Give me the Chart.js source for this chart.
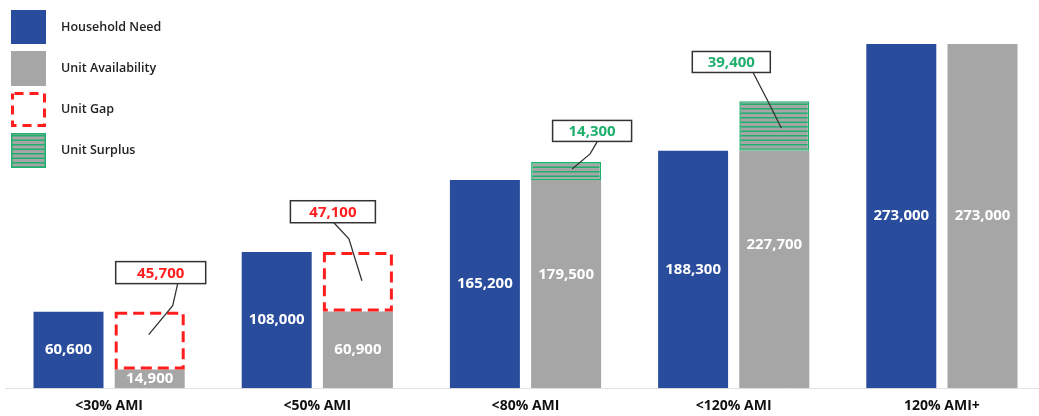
<!DOCTYPE html>
<html>
<head>
<meta charset="utf-8">
<script src="https://cdn.jsdelivr.net/npm/chart.js@4"></script>
<style>
  html, body { margin: 0; padding: 0; background: #fff; overflow: hidden; }
  #wrap { position: relative; width: 1046px; height: 416px; }
</style>
</head>
<body>
<div id="wrap"><canvas id="housing-chart"></canvas></div>
<script>
// Data
const categories = ['<30% AMI', '<50% AMI', '<80% AMI', '<120% AMI', '120% AMI+'];
const householdNeed = [60600, 108000, 165200, 188300, 273000];
const unitAvailability = [14900, 60900, 179500, 227700, 273000];
const unitGap = [45700, 47100, null, null, null];
const unitSurplus = [null, null, 14300, 39400, null];

const BLUE = '#2a4c9c';
const GRAY = '#a6a6a6';
const RED = '#ff1e1e';
const GREEN = '#1fb06e';
const FONT = "'Open Sans', sans-serif";

// solid grey part = availability minus any surplus on top of it
const availabilityBase = unitAvailability.map((v, i) => v - (unitSurplus[i] || 0));

// callout box + leader line, relative to the centre of the gap/surplus block
const callouts = {
    0: { dx: 11, dy: -68, w: 90, h: 22, line: [[28, -57], [23, -35], [-1, -6]] },
    1: { dx: -25, dy: -70, w: 85, h: 22, line: [[-24, -59], [-9, -43], [4, -1]] },
    2: { dx: 26, dy: -40, w: 79, h: 21, line: [[31, -29], [24, -17], [6, -2]] },
    3: { dx: -43, dy: -64, w: 78, h: 21, line: [[-21, -53], [-7, -26], [7, 2]] },
};

function stripes() {
    const c = document.createElement('canvas');
    c.width = 4; c.height = 9;
    const g = c.getContext('2d');
    g.fillStyle = GRAY;
    g.fillRect(0, 0, 4, 9);
    g.fillStyle = GREEN;
    g.fillRect(0, 0, 4, 1.5);
    g.fillRect(0, 4.5, 4, 1.5);
    return g.createPattern(c, 'repeat');
}
const surplusFill = stripes();

const fmt = v => v.toLocaleString('en-US');

const overlay = {
    id: 'overlay',
    afterDatasetsDraw(chart) {
        const ctx = chart.ctx;
        const yScale = chart.scales.y;
        const needMeta = chart.getDatasetMeta(0);
        const availMeta = chart.getDatasetMeta(1);
        const gapMeta = chart.getDatasetMeta(2);
        const surMeta = chart.getDatasetMeta(3);
        ctx.save();

        // dashed outline for the gap
        gapMeta.data.forEach((el, i) => {
            if (!unitGap[i]) return;
            ctx.setLineDash([11, 6]);
            ctx.lineWidth = 3;
            ctx.strokeStyle = RED;
            ctx.strokeRect(el.x - el.width / 2 + 1.5, el.y + 1.5, el.width - 3, el.base - el.y - 3);
        });
        ctx.setLineDash([]);

        // white value labels
        ctx.fillStyle = '#fff';
        ctx.font = '700 15px ' + FONT;
        ctx.textAlign = 'center';
        ctx.textBaseline = 'middle';
        needMeta.data.forEach((el, i) => {
            ctx.fillText(fmt(householdNeed[i]), el.x, (el.y + el.base) / 2);
        });
        availMeta.data.forEach((el, i) => {
            ctx.fillText(fmt(unitAvailability[i]), el.x, yScale.getPixelForValue(unitAvailability[i] / 2));
        });

        // callouts
        categories.forEach((c, i) => {
            const co = callouts[i];
            if (!co) return;
            const isGap = !!unitGap[i];
            const el = isGap ? gapMeta.data[i] : surMeta.data[i];
            const val = isGap ? unitGap[i] : unitSurplus[i];
            const cx = el.x, cy = (el.y + el.base) / 2;
            const bx = cx + co.dx, by = cy + co.dy;

            ctx.strokeStyle = '#333';
            ctx.lineWidth = 1.3;
            ctx.beginPath();
            co.line.forEach((p, k) => {
                if (k === 0) ctx.moveTo(cx + p[0], cy + p[1]);
                else ctx.lineTo(cx + p[0], cy + p[1]);
            });
            ctx.stroke();

            ctx.fillStyle = '#fff';
            ctx.fillRect(bx - co.w / 2, by - co.h / 2, co.w, co.h);
            ctx.lineWidth = 1.5;
            ctx.strokeRect(bx - co.w / 2, by - co.h / 2, co.w, co.h);
            ctx.fillStyle = isGap ? RED : GREEN;
            ctx.font = '700 15px ' + FONT;
            ctx.fillText(fmt(val), bx, by + 1);
        });
        ctx.restore();
    },
    afterDraw(chart) {
        // legend at top left
        const ctx = chart.ctx;
        ctx.save();
        const items = chart.data.datasets;
        items.forEach((ds, k) => {
            const x = 11, y = 10 + k * 41, s = 35;
            if (k === 0) { ctx.fillStyle = BLUE; ctx.fillRect(x, y, s, s - 1); }
            if (k === 1) { ctx.fillStyle = GRAY; ctx.fillRect(x, y, s, s); }
            if (k === 2) {
                ctx.setLineDash([9, 6]);
                ctx.lineDashOffset = -2;
                ctx.lineWidth = 3;
                ctx.strokeStyle = RED;
                ctx.strokeRect(x + 1.5, y + 1.5, s - 3, s - 3);
                ctx.setLineDash([]);
            }
            if (k === 3) {
                ctx.fillStyle = surplusFill;
                ctx.fillRect(x, y, s, s);
                ctx.lineWidth = 1.5;
                ctx.strokeStyle = GREEN;
                ctx.strokeRect(x + 0.75, y + 0.75, s - 1.5, s - 1.5);
            }
            ctx.fillStyle = '#222';
            ctx.font = '600 12.5px ' + FONT;
            ctx.textAlign = 'left';
            ctx.textBaseline = 'middle';
            ctx.fillText(ds.label, 61, y + s / 2);
        });
        ctx.restore();
    }
};

new Chart(document.getElementById('housing-chart'), {
    type: 'bar',
    data: {
        labels: categories,
        datasets: [
            { label: 'Household Need', data: householdNeed, backgroundColor: BLUE, stack: 'need' },
            { label: 'Unit Availability', data: availabilityBase, backgroundColor: GRAY, stack: 'avail' },
            { label: 'Unit Gap', data: unitGap, backgroundColor: 'rgba(255,255,255,0)', stack: 'avail' },
            { label: 'Unit Surplus', data: unitSurplus, backgroundColor: surplusFill, borderColor: GREEN,
              borderWidth: 1.5, borderSkipped: false, stack: 'avail' },
        ],
    },
    options: {
        responsive: true,
        maintainAspectRatio: false,
        animation: false,
        categoryPercentage: 0.78,
        barPercentage: 0.862,
        layout: { padding: { left: 5, right: 0, top: 10, bottom: -7 } },
        plugins: { legend: { display: false }, tooltip: { enabled: false } },
        scales: {
            x: {
                stacked: true,
                grid: { display: false, drawTicks: false },
                border: { display: true, color: '#e2e2e2', width: 1 },
                ticks: { color: '#111', font: { family: FONT, size: 14, weight: '700' }, padding: 9 },
            },
            y: {
                stacked: true,
                display: false,
                min: 0,
                max: 300000,
            },
        },
    },
    plugins: [overlay],
});
</script>
</body>
</html>
